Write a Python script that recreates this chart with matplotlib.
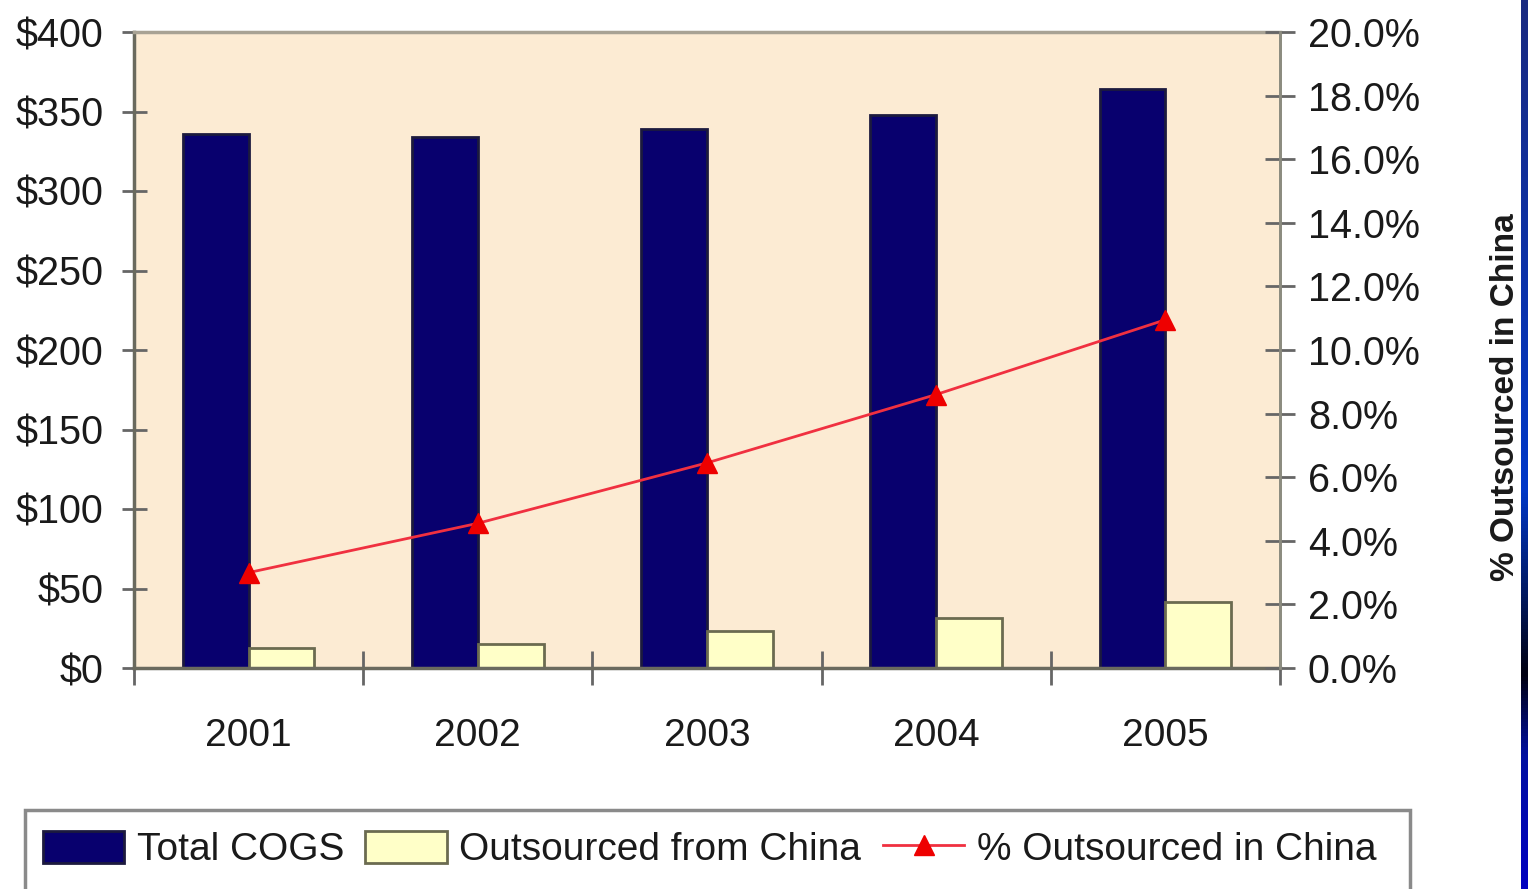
import numpy as np
import matplotlib
matplotlib.use("Agg")
import matplotlib.pyplot as plt
from matplotlib.ticker import FuncFormatter, FixedLocator
from matplotlib.colors import LinearSegmentedColormap
from matplotlib.patches import Rectangle

plt.rcParams['font.family'] = ['Liberation Sans', 'DejaVu Sans']

years = ['2001', '2002', '2003', '2004', '2005']
total_cogs = [336, 334, 339, 348, 364]
outsourced_china = [12.5, 15, 23, 31.5, 41.5]
pct_outsourced = [3.0, 4.55, 6.45, 8.6, 10.95]
left_ticks = [0, 50, 100, 150, 200, 250, 300, 350, 400]
right_ticks = [0, 2, 4, 6, 8, 10, 12, 14, 16, 18, 20]

W, H = 1528, 889
fig = plt.figure(figsize=(W / 100, H / 100), dpi=100)
fig.patch.set_facecolor('white')

ax = fig.add_axes([134 / W, 1 - 668 / H, (1280 - 134) / W, (668 - 32) / H])
ax.set_facecolor('#FCEBD3')

x = np.arange(len(years))
bw = 0.287
ax.bar(x - bw, total_cogs, width=bw, align='edge', color='#08006E',
       edgecolor='#1C1A3E', linewidth=2, zorder=2, label='Total COGS')
ax.bar(x, outsourced_china, width=bw, align='edge', color='#FFFFC8',
       edgecolor='#6B6B50', linewidth=2, zorder=2, label='Outsourced from China')

ax.set_xlim(-0.5, len(years) - 0.5)
ax.set_ylim(0, 400)
ax.yaxis.set_major_locator(FixedLocator(left_ticks))
ax.yaxis.set_major_formatter(FuncFormatter(lambda v, p: f'${int(v)}'))
ax.set_xticks(x)
ax.set_xticklabels(years)
ax.set_xticks(np.arange(-0.5, len(years), 1.0), minor=True)

ax.tick_params(axis='y', direction='inout', length=18, width=2, color='#666666',
               labelsize=28.5, pad=13, labelcolor='#1a1a1a')
ax.tick_params(axis='x', which='major', length=0, labelsize=28, pad=36,
               labelcolor='#1a1a1a')
ax.tick_params(axis='x', which='minor', direction='inout', length=24, width=2,
               color='#666666')

for s in ['left', 'bottom']:
    ax.spines[s].set_color('#6A6A5E')
    ax.spines[s].set_linewidth(2.5)
ax.spines['top'].set_color('#A8A294')
ax.spines['top'].set_linewidth(2.5)
ax.spines['right'].set_color('#8C8C80')
ax.spines['right'].set_linewidth(2)

ax2 = ax.twinx()
ax2.set_ylim(0, 20)
ax2.plot(x, pct_outsourced, color='#F03040', linewidth=2, marker='^',
         markersize=15, markerfacecolor='#EE0000', markeredgecolor='#EE0000',
         zorder=5, label='% Outsourced in China')
ax2.yaxis.set_major_locator(FixedLocator(right_ticks))
ax2.yaxis.set_major_formatter(FuncFormatter(lambda v, p: f'{v:.1f}%'))
ax2.tick_params(axis='y', direction='inout', length=22, width=2, color='#666666',
                labelsize=28.5, pad=9, labelcolor='#1a1a1a')
for s in ['left', 'bottom', 'top']:
    ax2.spines[s].set_visible(False)
ax2.spines['right'].set_color('#8C8C80')
ax2.spines['right'].set_linewidth(2)

fig.text(1505 / W, 1 - 397 / H, '% Outsourced in China', rotation=90,
         ha='center', va='center', fontsize=24, fontweight='bold', color='#1a1a1a')

# legend frame (extends past the bottom edge as in the reference)
fig.patches.append(Rectangle((25 / W, 1 - 900 / H), (1410 - 25) / W, 90 / H,
                             transform=fig.transFigure, facecolor='white',
                             edgecolor='#8A8A8A', linewidth=2.5, zorder=0))

h1, l1 = ax.get_legend_handles_labels()
h2, l2 = ax2.get_legend_handles_labels()
leg = fig.legend(h1 + h2, l1 + l2, loc='upper left',
                 bbox_to_anchor=(25 / W, 1 - 813 / H), ncol=3, fontsize=28,
                 frameon=False, borderpad=0.45,
                 handlelength=2.1, handleheight=0.9, handletextpad=0.32,
                 columnspacing=0.55, borderaxespad=0)
for t in leg.get_texts():
    t.set_color('#1a1a1a')

# blue slide edge at right
sax = fig.add_axes([1521 / W, 0, 7 / W, 1])
sax.axis('off')
grad = np.linspace(0, 1, 256).reshape(-1, 1)
cmap = LinearSegmentedColormap.from_list('edge', [(0, '#1A2A80'), (0.55, '#0038C8'),
                                                  (0.76, '#000010'), (0.85, '#0010A0'),
                                                  (1, '#0000C0')])
sax.imshow(grad, aspect='auto', cmap=cmap, extent=[0, 1, 1, 0])

fig.savefig('out.png', dpi=100, facecolor='white')
